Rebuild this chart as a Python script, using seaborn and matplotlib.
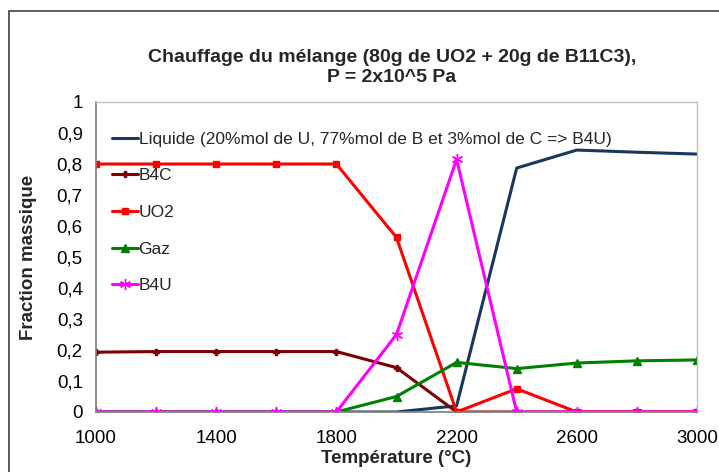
import matplotlib
matplotlib.use('Agg')
import matplotlib.pyplot as plt
import seaborn as sns
import pandas as pd
from matplotlib.patches import Rectangle

# Données
temperature = [1000, 1200, 1400, 1600, 1800, 2000, 2200, 2400, 2600, 2800, 3000]
liquide = [0, 0, 0, 0, 0, 0, 0.02, 0.787, 0.845, 0.838, 0.832]
b4c = [0.193, 0.195, 0.195, 0.195, 0.195, 0.143, 0, 0, 0, 0, 0]
uo2 = [0.8, 0.8, 0.8, 0.8, 0.8, 0.563, 0, 0.075, 0, 0, 0]
gaz = [0, 0, 0, 0, 0, 0.05, 0.16, 0.14, 0.158, 0.165, 0.168]
b4u = [0, 0, 0, 0, 0, 0.25, 0.815, 0, 0, 0, 0]

labels = ['Liquide (20%mol de U, 77%mol de B et 3%mol de C => B4U)',
          'B4C', 'UO2', 'Gaz', 'B4U']
series = [liquide, b4c, uo2, gaz, b4u]
colors = ['#17375E', '#7F0000', '#FF0000', '#008000', '#FF00FF']
markers = [None, 'P', 's', '^', (6, 2, 0)]
msizes = [0, 5, 5, 6, 8]

sns.set_theme(style='white')
plt.rcParams['font.family'] = ['Liberation Sans', 'DejaVu Sans']

fig = plt.figure(figsize=(7.19, 4.72), dpi=100)
ax = fig.add_axes([96 / 719, 60 / 472, 601 / 719, 310 / 472])

# Cadre de la figure
fig.patches.append(Rectangle((9 / 719, -0.1), 1.1, (472 - 11) / 472 + 0.1,
                             transform=fig.transFigure, fill=False,
                             edgecolor='#404040', linewidth=1.2))

for lab, vals, col, mk, ms in zip(labels, series, colors, markers, msizes):
    df = pd.DataFrame({'T': temperature, 'v': vals})
    sns.lineplot(data=df, x='T', y='v', ax=ax, color=col, linewidth=2.2,
                 marker=mk, markersize=ms, markeredgecolor=col,
                 markeredgewidth=1, label=lab)

ax.set_xlim(1000, 3000)
ax.set_ylim(0, 1)
ax.set_xticks([1000, 1400, 1800, 2200, 2600, 3000])
ax.set_yticks([i / 10 for i in range(11)])
ax.set_yticklabels(['0'] + [('0,%d' % i) for i in range(1, 10)] + ['1'])
ax.tick_params(axis='both', labelsize=13.5, colors='black')
ax.tick_params(axis='y', direction='out', length=6, width=1, color='#808080')
ax.tick_params(axis='x', length=0, pad=13)

for side in ['top', 'right']:
    ax.spines[side].set_color('#BFBFBF')
    ax.spines[side].set_linewidth(1)
ax.spines['left'].set_color('#808080')
ax.spines['bottom'].set_color('#808080')

ax.set_xlabel('Température (°C)', fontsize=13.5, fontweight='bold',
              labelpad=2)
ax.set_ylabel('Fraction massique', fontsize=13.5, fontweight='bold',
              labelpad=14)

fig.text(0.545, 0.857, 'Chauffage du mélange (80g de UO2 + 20g de B11C3),\n'
         'P = 2x10^5 Pa', ha='center', va='center', fontsize=14,
         fontweight='bold', linespacing=1.25)

leg = ax.legend(loc='upper left', bbox_to_anchor=(0.0, 0.955), frameon=False,
                fontsize=12.5, handlelength=1.5, handletextpad=0.05,
                labelspacing=1.24, borderaxespad=0.5)

plt.savefig('out.png', dpi=100)
